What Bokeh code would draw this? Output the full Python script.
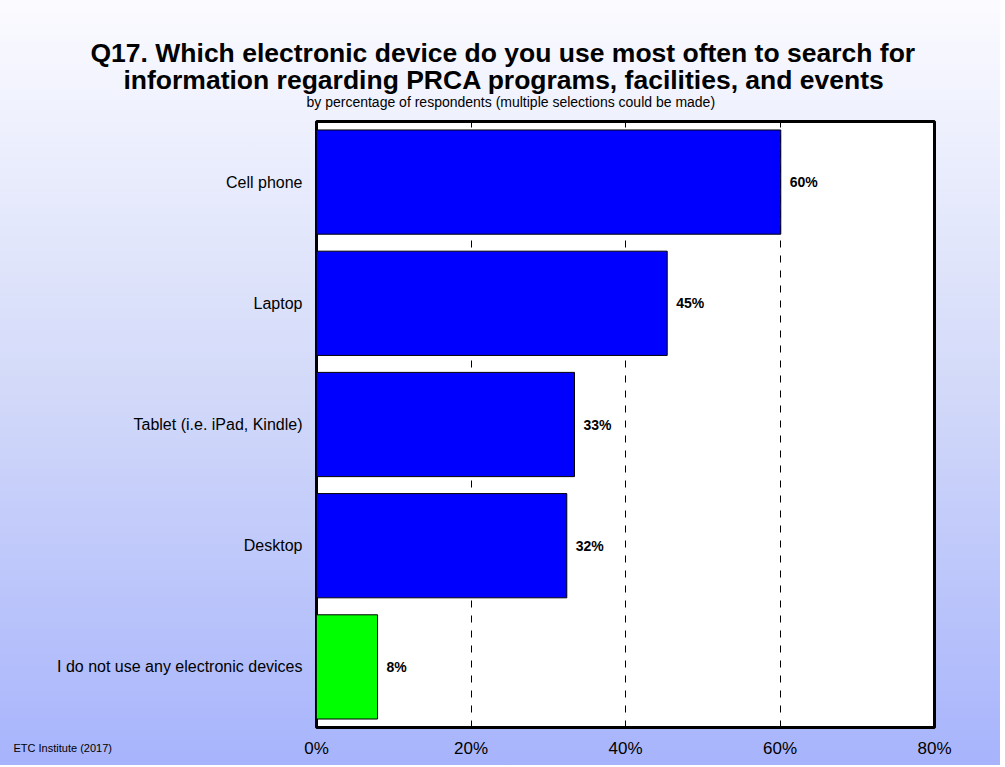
from bokeh.plotting import figure
from bokeh.models import FactorRange, Range1d, FixedTicker, PrintfTickFormatter, Title, ColumnDataSource
from bokeh.core.properties import value
from bokeh.embed import file_html
from bokeh.resources import INLINE

categories = ["Cell phone", "Laptop", "Tablet (i.e. iPad, Kindle)", "Desktop",
              "I do not use any electronic devices"]
values = [60.1, 45.4, 33.4, 32.4, 7.9]
value_labels = ["60%", "45%", "33%", "32%", "8%"]
bar_colors = ["#0000FF", "#0000FF", "#0000FF", "#0000FF", "#00FF00"]
x_ticks = [0, 20, 40, 60, 80]

FONT = "Liberation Sans"

p = figure(width=1000, height=765, output_backend="svg", toolbar_location=None,
           y_range=FactorRange(factors=categories[::-1], range_padding=0),
           x_range=Range1d(0, 80),
           min_border_left=316, min_border_right=66, min_border_top=121, min_border_bottom=38)

p.styles = {"background": "linear-gradient(to bottom, #fbfbff 0%, #d3daf9 50%, #a7b4fc 100%)"}
p.border_fill_alpha = 0
p.background_fill_color = "white"
p.outline_line_color = "black"
p.outline_line_width = 3

src = ColumnDataSource(dict(cat=categories, val=values, lab=value_labels, col=bar_colors))
p.hbar(y="cat", right="val", left=0, height=0.86, fill_color="col", line_color="black",
       line_width=1, source=src)
p.text(x="val", y="cat", text="lab", x_offset=9, text_align="left", text_baseline="middle",
       text_font=value(FONT), text_font_size="14px", text_font_style="bold", text_color="black",
       source=src)

# axes
p.xaxis.ticker = FixedTicker(ticks=x_ticks)
p.xaxis.formatter = PrintfTickFormatter(format="%d%%")
p.xaxis.axis_line_color = None
p.xaxis.major_tick_line_color = None
p.xaxis.minor_tick_line_color = None
p.xaxis.major_tick_out = 0
p.xaxis.major_tick_in = 0
p.xaxis.minor_tick_out = 0
p.xaxis.major_label_standoff = -27
p.xaxis.major_label_text_font = FONT
p.xaxis.major_label_text_font_size = "17px"
p.xaxis.major_label_text_color = "black"

p.yaxis.axis_line_color = None
p.yaxis.major_tick_line_color = None
p.yaxis.major_tick_out = 0
p.yaxis.major_label_standoff = 14
p.yaxis.major_label_text_font = FONT
p.yaxis.major_label_text_font_size = "16px"
p.yaxis.major_label_text_color = "black"

p.xgrid.grid_line_color = "black"
p.xgrid.grid_line_dash = "7 8"
p.xgrid.grid_line_width = 1
p.ygrid.grid_line_color = None

def make_title(text, size, style, offset, standoff, valign="bottom"):
    return Title(text=text, text_font=FONT, text_font_size=size, text_font_style=style,
                 align="left", offset=offset, standoff=standoff, vertical_align=valign,
                 text_color="black")

p.add_layout(make_title("by percentage of respondents (multiple selections could be made)",
                        "14px", "normal", -10, 24), "above")
p.add_layout(make_title("information regarding PRCA programs, facilities, and events",
                        "26.5px", "bold", -193, -31.6), "above")
p.add_layout(make_title("Q17. Which electronic device do you use most often to search for",
                        "26.5px", "bold", -226, 24), "above")
# footer sits next to the frame, the x axis follows it
footer = make_title("ETC Institute (2017)", "11px", "normal", -303, 23.7, valign="bottom")
p.below = [footer] + list(p.below)

open("out.html", "w").write(file_html(p, INLINE))
